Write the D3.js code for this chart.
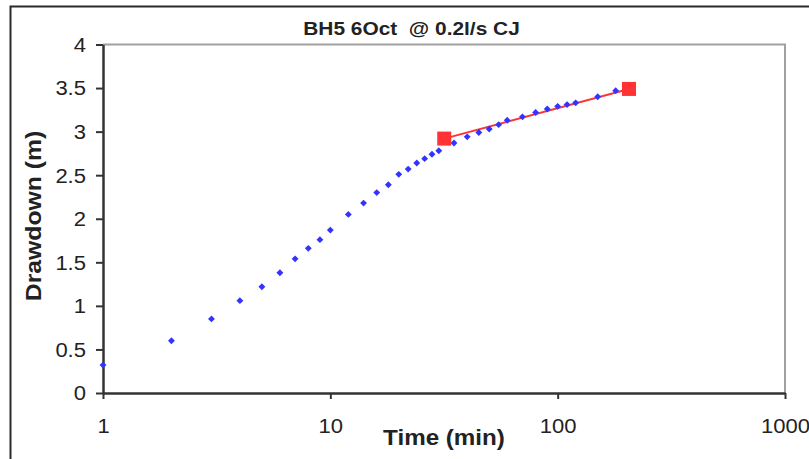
<!DOCTYPE html>
<html>
<head>
<meta charset="utf-8">
<script src="https://cdn.jsdelivr.net/npm/d3@7"></script>
<style>
  html, body { margin: 0; padding: 0; background: #fff; }
  svg { display: block; font-family: "Liberation Sans", Arial, sans-serif; }
</style>
</head>
<body>
<svg id="chart" width="809" height="459"></svg>
<script>
// ---- data ----
const timeMin = [1,2,3,4,5,6,7,8,9,10,12,14,16,18,20,22,24,26,28,30,35,40,45,50,55,60,70,80,90,100,110,120,150,180];
const drawdown = [0.32,0.60,0.85,1.06,1.22,1.38,1.54,1.66,1.76,1.87,2.05,2.18,2.30,2.39,2.51,2.57,2.64,2.69,2.74,2.78,2.87,2.94,2.99,3.03,3.08,3.13,3.17,3.22,3.26,3.29,3.31,3.33,3.40,3.47];
const fitTime = [31.7, 206];
const fitDrawdown = [2.92, 3.49];
const xTicks = [1, 10, 100, 1000];
const yTicks = [0, 0.5, 1, 1.5, 2, 2.5, 3, 3.5, 4];
const titleText = "BH5 6Oct  @ 0.2l/s CJ";
const xLabel = "Time (min)";
const yLabel = "Drawdown (m)";

// ---- layout ----
const svg = d3.select("#chart");
const L = 103, R = 785, T = 44.5, B = 393;
const SX = 1.13; // horizontal stretch of the text in the reference

const x = d3.scaleLog().domain([1, 1000]).range([L, R]);
const y = d3.scaleLinear().domain([0, 4]).range([B, T]);

// outer frame
svg.append("rect")
  .attr("x", 10.5).attr("y", 6.5).attr("width", 820).attr("height", 470)
  .attr("fill", "none").attr("stroke", "#2a2a2a").attr("stroke-width", 2);

// plot area gray border (top and right)
svg.append("path")
  .attr("d", `M${L},${T}H${R}V${B}`)
  .attr("fill", "none").attr("stroke", "#a0a0a0").attr("stroke-width", 2);

// y axis
const yAxis = svg.append("g")
  .attr("transform", `translate(${L},0)`)
  .call(d3.axisLeft(y).tickValues(yTicks).tickSize(7).tickSizeOuter(0).tickFormat(d3.format("")));
// x axis
const xAxis = svg.append("g")
  .attr("transform", `translate(0,${B})`)
  .call(d3.axisBottom(x).tickValues(xTicks).tickSize(6).tickSizeOuter(0).tickFormat(d3.format("")));

[yAxis, xAxis].forEach(g => {
  g.select(".domain").attr("stroke", "#333").attr("stroke-width", 2.5);
  g.selectAll(".tick line").attr("stroke", "#333").attr("stroke-width", 2);
  g.selectAll(".tick text")
    .attr("fill", "#222")
    .style("font-size", "19.5px")
    .style("font-family", "'Liberation Sans', Arial, sans-serif");
});
yAxis.selectAll(".tick text")
  .attr("x", -17 / SX).attr("dy", "0.35em")
  .attr("transform", `scale(${SX},1)`);
xAxis.selectAll(".tick text")
  .attr("y", 40).attr("dy", 0)
  .attr("transform", `scale(${SX},1)`);

// fit line
const fit = fitTime.map((t, i) => [t, fitDrawdown[i]]);
svg.append("path")
  .datum(fit)
  .attr("d", d3.line().x(d => x(d[0])).y(d => y(d[1])))
  .attr("fill", "none").attr("stroke", "#ff3333").attr("stroke-width", 2);

// data points (diamonds)
const diamond = d3.symbol().type(d3.symbolDiamond2 || d3.symbolDiamond).size(30);
svg.append("g").selectAll("path")
  .data(timeMin.map((t, i) => [t, drawdown[i]]))
  .join("path")
  .attr("d", diamond)
  .attr("transform", d => `translate(${x(d[0])},${y(d[1])})`)
  .attr("fill", "#3333ff");

// fit end squares
svg.append("g").selectAll("rect")
  .data(fit)
  .join("rect")
  .attr("x", d => x(d[0]) - 7).attr("y", d => y(d[1]) - 7)
  .attr("width", 14).attr("height", 14)
  .attr("fill", "#ff3333");

// title
svg.append("text")
  .attr("transform", `translate(411.5,35) scale(${SX},1)`)
  .attr("text-anchor", "middle")
  .style("white-space", "pre")
  .style("font-size", "18.5px").style("font-weight", "bold")
  .attr("fill", "#222")
  .text(titleText);

// x label
svg.append("text")
  .attr("transform", `translate(444,445) scale(1.1,1)`)
  .attr("text-anchor", "middle")
  .style("font-size", "22px").style("font-weight", "bold")
  .attr("fill", "#222")
  .text(xLabel);

// y label
svg.append("text")
  .attr("transform", `translate(41,216) rotate(-90) scale(1.1,1)`)
  .attr("text-anchor", "middle")
  .style("font-size", "22.5px").style("font-weight", "bold")
  .attr("fill", "#222")
  .text(yLabel);
</script>
</body>
</html>
